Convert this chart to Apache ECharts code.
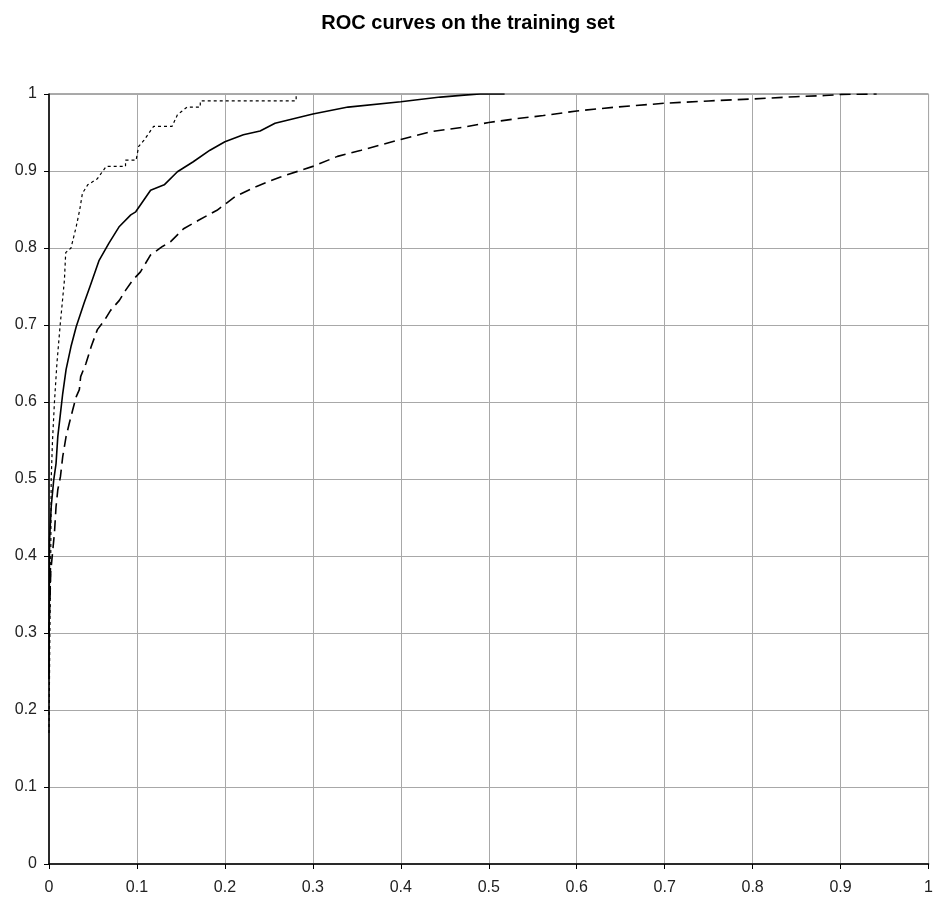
<!DOCTYPE html>
<html>
<head>
<meta charset="utf-8">
<script src="https://cdn.jsdelivr.net/npm/echarts@6/dist/echarts.min.js"></script>
<style>html,body{margin:0;padding:0;background:#fff}#c{width:936px;height:900px}</style>
</head>
<body>
<div id="c"></div>
<script>
const titleText = 'ROC curves on the training set';
const xTicks = [0,0.1,0.2,0.3,0.4,0.5,0.6,0.7,0.8,0.9,1];
const yTicks = [0,0.1,0.2,0.3,0.4,0.5,0.6,0.7,0.8,0.9,1];

// Dotted curve (best)
const dottedX = [0,0.001,0.002,0.0025,0.004,0.0062,0.009,0.0127,0.0175,0.019,0.025,0.031,0.035,0.038,0.044,0.055,0.065,0.087,0.087,0.099,0.102,0.108,0.119,0.140,0.146,0.157,0.172,0.172,0.281,0.281];
const dottedY = [0.17,0.30,0.40,0.50,0.55,0.60,0.65,0.70,0.758,0.794,0.80,0.828,0.85,0.871,0.882,0.890,0.906,0.906,0.914,0.914,0.932,0.94,0.958,0.958,0.973,0.983,0.983,0.991,0.991,1.0];

// Solid curve
const solidX = [0,0.0006,0.0025,0.0054,0.008,0.010,0.013,0.0156,0.0194,0.025,0.031,0.040,0.0466,0.057,0.068,0.080,0.093,0.0986,0.1155,0.131,0.146,0.164,0.183,0.200,0.221,0.240,0.257,0.300,0.340,0.400,0.445,0.472,0.490,0.518];
const solidY = [0.24,0.42,0.464,0.499,0.520,0.555,0.585,0.611,0.642,0.672,0.698,0.729,0.750,0.784,0.806,0.828,0.843,0.847,0.875,0.882,0.899,0.912,0.927,0.938,0.947,0.952,0.962,0.974,0.983,0.990,0.996,0.9985,1.0,1.0];

// Long-dash curve
const dashX = [0,0.002,0.0062,0.008,0.010,0.013,0.0156,0.0194,0.023,0.027,0.031,0.0345,0.036,0.042,0.048,0.055,0.063,0.070,0.080,0.087,0.095,0.104,0.1155,0.129,0.138,0.153,0.170,0.191,0.212,0.236,0.2625,0.300,0.328,0.355,0.400,0.434,0.472,0.500,0.532,0.562,0.600,0.645,0.700,0.750,0.799,0.849,0.882,0.901,0.941];
const dashY = [0.30,0.38,0.430,0.464,0.486,0.503,0.529,0.555,0.572,0.590,0.607,0.616,0.633,0.650,0.672,0.694,0.706,0.719,0.732,0.745,0.758,0.769,0.791,0.802,0.808,0.825,0.836,0.849,0.867,0.880,0.892,0.906,0.919,0.927,0.941,0.951,0.957,0.963,0.968,0.972,0.978,0.983,0.988,0.991,0.9935,0.9965,0.998,0.9995,1.0];

function pairs(xs, ys){ return xs.map((x,i)=>[x, ys[i]]); }

const chart = echarts.init(document.getElementById('c'));
const font = 'Liberation Sans, Arial, sans-serif';
chart.setOption({
  animation: false,
  backgroundColor: '#fff',
  title: {
    text: titleText, left: 'center', top: 8,
    textStyle: {fontFamily: font, fontSize: 20, fontWeight: 'bold', color: '#000'}
  },
  grid: {left: 49, right: 2, top: 94, bottom: 36, show: true, borderColor: '#555', borderWidth: 1, backgroundColor: '#fff'},
  xAxis: {
    type: 'value', min: 0, max: 1, interval: 0.1,
    axisLine: {show: true, onZero: false, lineStyle: {color: '#000', width: 1.5}},
    axisTick: {show: true, length: 5, lineStyle: {color: '#000'}},
    axisLabel: {fontFamily: font, fontSize: 16, color: '#222', margin: 16,
      formatter: v => { const t = xTicks.find(a => Math.abs(a - v) < 1e-9); return t === undefined ? '' : String(t); }},
    splitLine: {show: true, lineStyle: {color: '#a8a8a8', width: 1}}
  },
  yAxis: {
    type: 'value', min: 0, max: 1, interval: 0.1,
    axisLine: {show: true, onZero: false, lineStyle: {color: '#000', width: 1.5}},
    axisTick: {show: true, length: 5, lineStyle: {color: '#000'}},
    axisLabel: {fontFamily: font, fontSize: 16, color: '#222', margin: 12,
      formatter: v => { const t = yTicks.find(a => Math.abs(a - v) < 1e-9); return t === undefined ? '' : String(t); }},
    splitLine: {show: true, lineStyle: {color: '#a8a8a8', width: 1}}
  },
  series: [
    {type: 'line', data: pairs(dottedX, dottedY), showSymbol: false, lineStyle: {color: '#000', width: 1.2, type: [3,3]}},
    {type: 'line', data: pairs(solidX, solidY), showSymbol: false, lineStyle: {color: '#000', width: 1.6, type: 'solid'}},
    {type: 'line', data: pairs(dashX, dashY), showSymbol: false, lineStyle: {color: '#000', width: 1.6, type: [11,6]}}
  ]
});
</script>
</body>
</html>
